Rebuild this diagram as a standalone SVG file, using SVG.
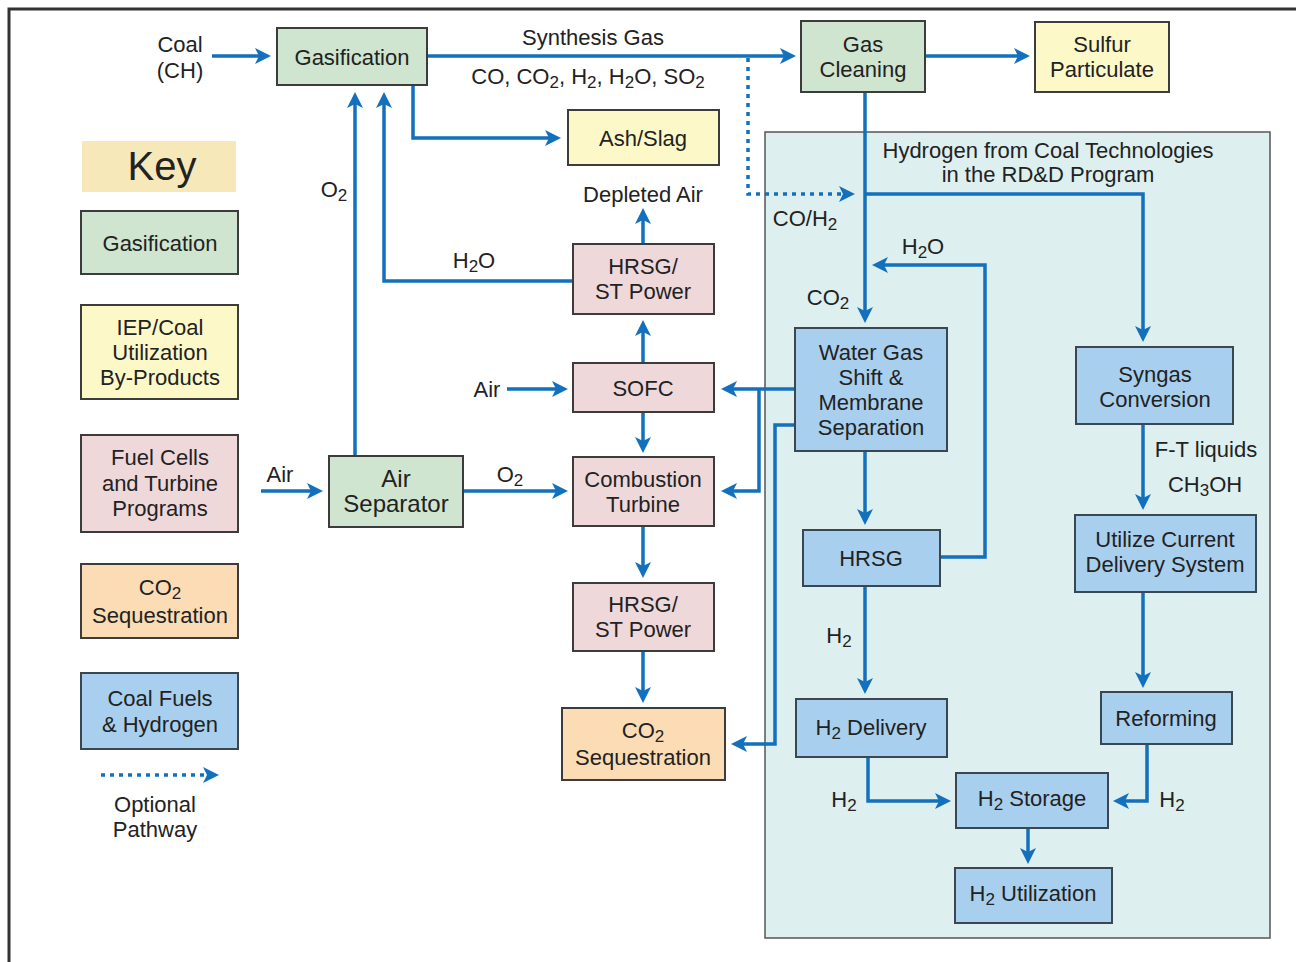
<svg xmlns="http://www.w3.org/2000/svg" width="1296" height="962" viewBox="0 0 1296 962">
<style>
text{font-family:"Liberation Sans",Arial,sans-serif;font-size:22px;fill:#222;text-anchor:middle}
.box{stroke:#3c3c3c;stroke-width:2}
.g{fill:#cfe5cf}.y{fill:#fdf8c8}.p{fill:#efd8da}.o{fill:#fcdcb4}.b{fill:#a8d0ee;stroke:#3a4650}
.c{fill:none;stroke:#1270bd;stroke-width:3.5;marker-end:url(#ah)}
.d{stroke-dasharray:4 5}
.s{font-size:17px}
</style>
<defs>
<marker id="ah" markerUnits="userSpaceOnUse" markerWidth="16" markerHeight="16" refX="12" refY="8" orient="auto">
<path d="M0,0 L16,8 L0,16 L4,8 z" fill="#1270bd"/>
</marker>
</defs>
<rect width="1296" height="962" fill="#fff"/>
<path d="M9,962 V9 H1296" fill="none" stroke="#333" stroke-width="3"/>

<g id="panel">
<rect x="765" y="132" width="505" height="806" fill="#ddefee" stroke="#555" stroke-width="1.5"/>
<text x="1048" y="158">Hydrogen from Coal Technologies</text>
<text x="1048" y="182">in the RD&amp;D Program</text>
</g>

<g id="key">
<rect x="82" y="141" width="154" height="51" fill="#f6e8b9"/>
<text x="162" y="180" style="font-size:40px">Key</text>
<g id="key-gasification"><rect class="box g" x="81" y="211" width="157" height="63"/><text x="160" y="251">Gasification</text></g>
<g id="key-iep"><rect class="box y" x="81" y="305" width="157" height="94"/><text x="160" y="335">IEP/Coal</text><text x="160" y="360">Utilization</text><text x="160" y="385">By-Products</text></g>
<g id="key-fuelcells"><rect class="box p" x="81" y="435" width="157" height="97"/><text x="160" y="465">Fuel Cells</text><text x="160" y="491">and Turbine</text><text x="160" y="516">Programs</text></g>
<g id="key-co2"><rect class="box o" x="81" y="564" width="157" height="74"/><text x="160" y="595">CO<tspan class="s" dy="4">2</tspan></text><text x="160" y="623">Sequestration</text></g>
<g id="key-coalfuels"><rect class="box b" x="81" y="673" width="157" height="76"/><text x="160" y="706">Coal Fuels</text><text x="160" y="732">&amp; Hydrogen</text></g>
<g id="key-optional"><path class="c d" d="M101,775 H215"/><text x="155" y="812">Optional</text><text x="155" y="837">Pathway</text></g>
</g>

<g id="connectors">
<path class="c" d="M212,56 H267"/>
<path class="c" d="M427,56 H792"/>
<path class="c" d="M925,56 H1026"/>
<path class="c" d="M413,85 V138 H557"/>
<path class="c d" d="M748,58 V194 H851"/>
<path class="c" d="M865,92 V319"/>
<path class="c" d="M865,194 H1143 V338"/>
<path class="c" d="M940,557 H985 V265 H876"/>
<path class="c" d="M865,451 V521"/>
<path class="c" d="M865,586 V690"/>
<path class="c" d="M868,757 V801 H947"/>
<path class="c" d="M1147,744 V801 H1117"/>
<path class="c" d="M1028,828 V860"/>
<path class="c" d="M1143,424 V506"/>
<path class="c" d="M1143,592 V684"/>
<path class="c" d="M795,389 H725"/>
<path class="c" d="M759,389 V491 H725"/>
<path class="c" d="M795,425 H775 V744 H735"/>
<path class="c" d="M507,389 H564"/>
<path class="c" d="M463,491 H564"/>
<path class="c" d="M643,412 V449"/>
<path class="c" d="M643,363 V324"/>
<path class="c" d="M643,244 V212"/>
<path class="c" d="M643,526 V574"/>
<path class="c" d="M643,651 V699"/>
<path class="c" d="M573,281 H384 V96"/>
<path class="c" d="M355,456 V96"/>
<path class="c" d="M261,491 H319"/>
</g>

<g id="labels">
<text x="180" y="52">Coal</text>
<text x="180" y="78">(CH)</text>
<text x="593" y="45">Synthesis Gas</text>
<text x="588" y="84">CO, CO<tspan class="s" dy="4">2</tspan><tspan dy="-4">, H</tspan><tspan class="s" dy="4">2</tspan><tspan dy="-4">, H</tspan><tspan class="s" dy="4">2</tspan><tspan dy="-4">O, SO</tspan><tspan class="s" dy="4">2</tspan></text>
<text x="334" y="197">O<tspan class="s" dy="4">2</tspan></text>
<text x="643" y="202">Depleted Air</text>
<text x="805" y="226">CO/H<tspan class="s" dy="4">2</tspan></text>
<text x="474" y="268">H<tspan class="s" dy="4">2</tspan><tspan dy="-4">O</tspan></text>
<text x="923" y="254">H<tspan class="s" dy="4">2</tspan><tspan dy="-4">O</tspan></text>
<text x="828" y="305">CO<tspan class="s" dy="4">2</tspan></text>
<text x="280" y="482">Air</text>
<text x="487" y="397">Air</text>
<text x="510" y="482">O<tspan class="s" dy="4">2</tspan></text>
<text x="1206" y="457">F-T liquids</text>
<text x="1205" y="492">CH<tspan class="s" dy="4">3</tspan><tspan dy="-4">OH</tspan></text>
<text x="839" y="643">H<tspan class="s" dy="4">2</tspan></text>
<text x="844" y="807">H<tspan class="s" dy="4">2</tspan></text>
<text x="1172" y="807">H<tspan class="s" dy="4">2</tspan></text>
</g>

<g id="gasification"><rect class="box g" x="277" y="28" width="150" height="57"/><text x="352" y="65">Gasification</text></g>
<g id="gas-cleaning"><rect class="box g" x="801" y="21" width="124" height="71"/><text x="863" y="52">Gas</text><text x="863" y="77">Cleaning</text></g>
<g id="sulfur"><rect class="box y" x="1035" y="22" width="134" height="70"/><text x="1102" y="52">Sulfur</text><text x="1102" y="77">Particulate</text></g>
<g id="ash-slag"><rect class="box y" x="568" y="110" width="151" height="55"/><text x="643" y="146">Ash/Slag</text></g>
<g id="hrsg-st-upper"><rect class="box p" x="573" y="244" width="141" height="70"/><text x="643" y="274">HRSG/</text><text x="643" y="299">ST Power</text></g>
<g id="sofc"><rect class="box p" x="573" y="363" width="141" height="49"/><text x="643" y="396">SOFC</text></g>
<g id="combustion-turbine"><rect class="box p" x="573" y="457" width="141" height="69"/><text x="643" y="487">Combustion</text><text x="643" y="512">Turbine</text></g>
<g id="hrsg-st-lower"><rect class="box p" x="573" y="583" width="141" height="68"/><text x="643" y="612">HRSG/</text><text x="643" y="637">ST Power</text></g>
<g id="co2-sequestration"><rect class="box o" x="562" y="708" width="163" height="72"/><text x="643" y="738">CO<tspan class="s" dy="4">2</tspan></text><text x="643" y="765">Sequestration</text></g>
<g id="air-separator"><rect class="box g" x="329" y="456" width="134" height="71"/><text x="396" y="487" style="font-size:24px">Air</text><text x="396" y="512" style="font-size:24px">Separator</text></g>
<g id="water-gas-shift"><rect class="box b" x="795" y="328" width="152" height="123"/><text x="871" y="360">Water Gas</text><text x="871" y="385">Shift &amp;</text><text x="871" y="410">Membrane</text><text x="871" y="435">Separation</text></g>
<g id="syngas-conversion"><rect class="box b" x="1076" y="347" width="157" height="77"/><text x="1155" y="382">Syngas</text><text x="1155" y="407">Conversion</text></g>
<g id="hrsg"><rect class="box b" x="803" y="530" width="137" height="56"/><text x="871" y="566">HRSG</text></g>
<g id="utilize-current"><rect class="box b" x="1075" y="515" width="181" height="77"/><text x="1165" y="547">Utilize Current</text><text x="1165" y="572">Delivery System</text></g>
<g id="h2-delivery"><rect class="box b" x="796" y="699" width="151" height="58"/><text x="871" y="735">H<tspan class="s" dy="4">2</tspan><tspan dy="-4"> Delivery</tspan></text></g>
<g id="reforming"><rect class="box b" x="1101" y="692" width="131" height="52"/><text x="1166" y="726">Reforming</text></g>
<g id="h2-storage"><rect class="box b" x="956" y="773" width="152" height="55"/><text x="1032" y="806">H<tspan class="s" dy="4">2</tspan><tspan dy="-4"> Storage</tspan></text></g>
<g id="h2-utilization"><rect class="box b" x="955" y="868" width="157" height="55"/><text x="1033" y="901">H<tspan class="s" dy="4">2</tspan><tspan dy="-4"> Utilization</tspan></text></g>
</svg>
